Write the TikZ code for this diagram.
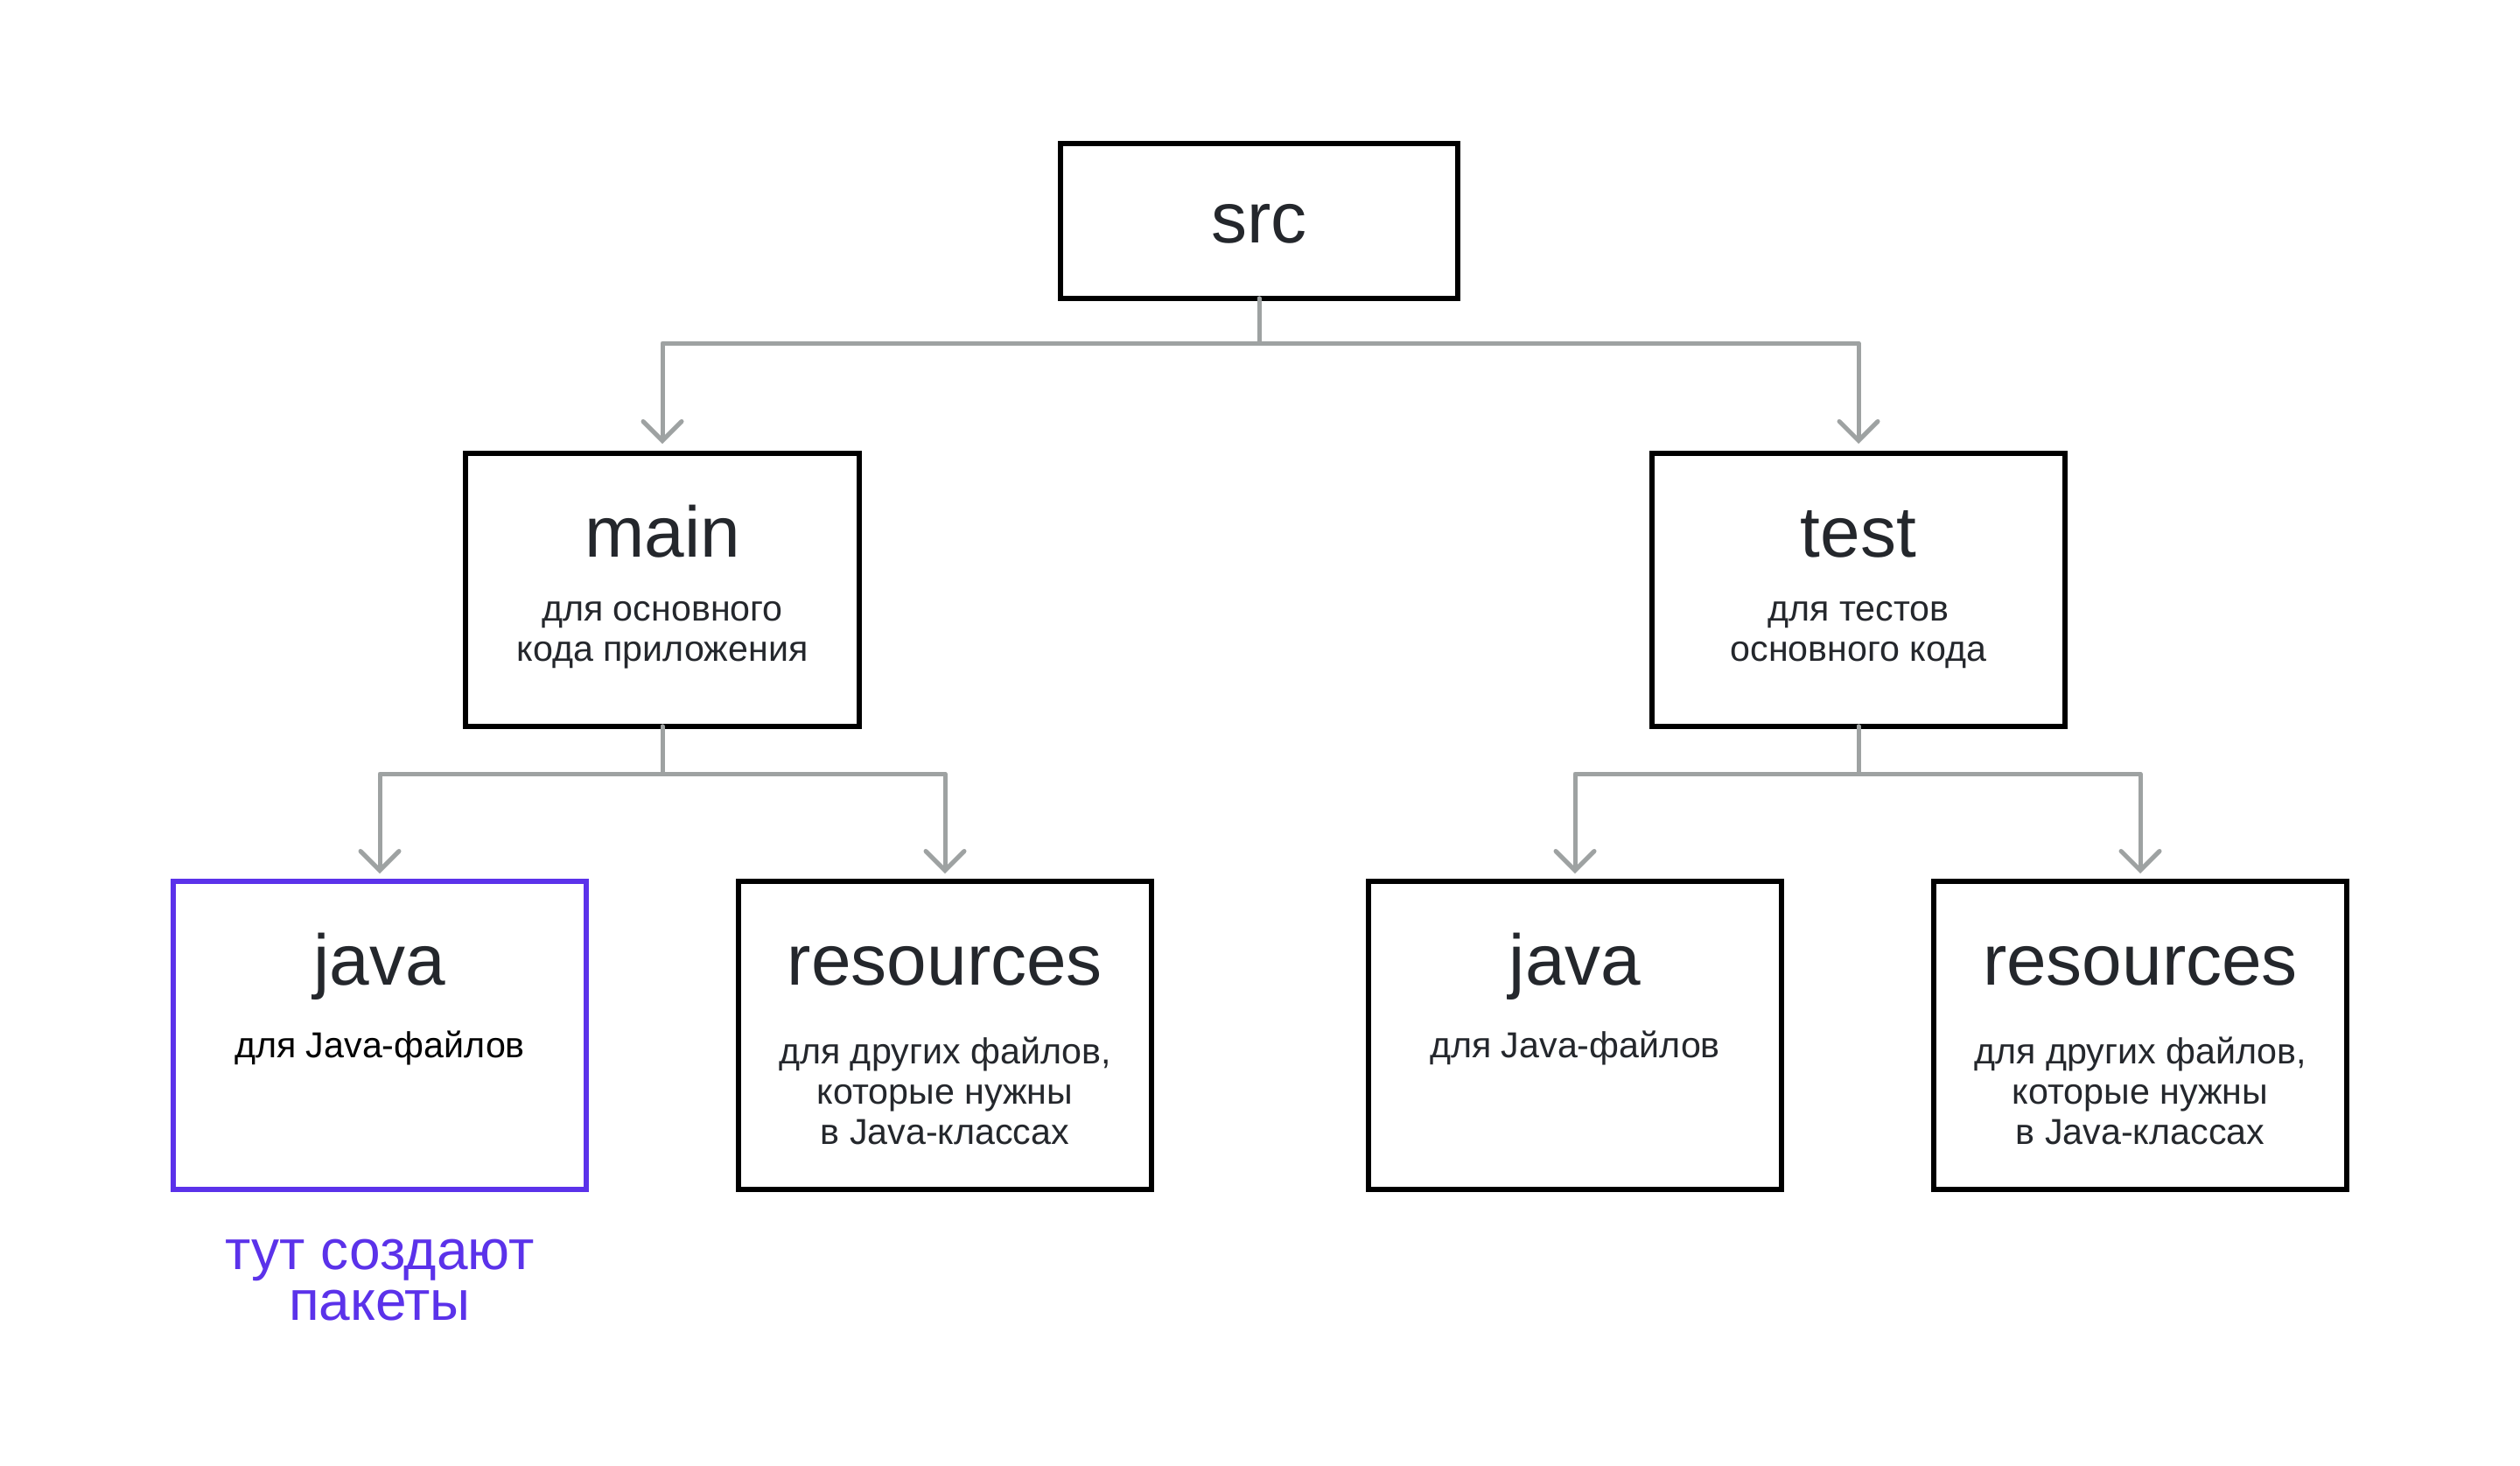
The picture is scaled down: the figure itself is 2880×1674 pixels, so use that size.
\documentclass[tikz,border=0pt]{standalone}
\usepackage{fontspec}
\setmainfont{Liberation Sans}
\usetikzlibrary{arrows.meta}
\definecolor{txt}{HTML}{24272C}
\definecolor{conncol}{HTML}{9EA2A2}
\definecolor{purp}{HTML}{5B32EA}
\newcommand\mylines[1]{\begin{tabular}[t]{@{}c@{}}#1\end{tabular}}
\begin{document}
\begin{tikzpicture}[x=0.25pt,y=-0.25pt,
  box/.style={draw=black,line width=1.5pt,inner sep=0pt,outer sep=0pt,fill=white},
  pbox/.style={box,draw=purp},
  ttl/.style={anchor=base,inner sep=0pt,text=txt,font=\fontsize{20.5pt}{24pt}\selectfont},
  sub/.style={anchor=base,inner sep=0pt,text=txt,font=\fontsize{10.3pt}{11.6pt}\selectfont},
  lbl/.style={anchor=base,inner sep=0pt,text=purp,font=\fontsize{16pt}{14.5pt}\selectfont},
  conn/.style={draw=conncol,line width=1.25pt,line cap=round,line join=round,
    -{Straight Barb[length=5.5pt,width=11pt,line width=1.25pt,line cap=round]}}
]
\useasboundingbox (0,0) rectangle (2880,1674);
\fill[white] (0,0) rectangle (2880,1674);

% boxes
\node[box,minimum width=113.5pt,minimum height=44.25pt] (src) at (1439,252.5) {};
\node[box,minimum width=112.5pt,minimum height=78pt] (main) at (757,674) {};
\node[box,minimum width=118pt,minimum height=78pt] (test) at (2124,674) {};
\node[pbox,minimum width=118pt,minimum height=88pt] (java1) at (434,1183) {};
\node[box,minimum width=118pt,minimum height=88pt] (res1) at (1080,1183) {};
\node[box,minimum width=118pt,minimum height=88pt] (java2) at (1800,1183) {};
\node[box,minimum width=118pt,minimum height=88pt] (res2) at (2446,1183) {};

% texts
\node[ttl] (tsrc) at (1439,277) {src};
\node[ttl] (tmain) at (757,636) {main};
\node[sub] (smain) at (757,709) {\mylines{для основного\\кода приложения}};
\node[ttl] (ttest) at (2124,636) {test};
\node[sub] (stest) at (2124,709) {\mylines{для тестов\\основного кода}};
\node[ttl] (tjava1) at (434,1125) {java};
\node[sub,text=black] (sjava1) at (434,1208) {для Java-файлов};
\node[ttl] (tres1) at (1080,1125) {resources};
\node[sub] (sres1) at (1080,1215) {\mylines{для других файлов,\\которые нужны\\в Java-классах}};
\node[ttl] (tjava2) at (1800,1125) {java};
\node[sub] (sjava2) at (1800,1208) {для Java-файлов};
\node[ttl] (tres2) at (2446,1125) {resources};
\node[sub] (sres2) at (2446,1215) {\mylines{для других файлов,\\которые нужны\\в Java-классах}};
\node[lbl] (note) at (434,1450) {\mylines{тут создают\\пакеты}};

% connectors
\draw[conn,shorten >=2.75pt] (src.south) -- ++(0,51) -| (main.north);
\draw[conn,shorten >=2.75pt] (src.south) -- ++(0,51) -| (test.north);
\draw[conn,shorten >=2.25pt] (main.south) -- ++(0,54) -| (java1.north);
\draw[conn,shorten >=2.25pt] (main.south) -- ++(0,54) -| (res1.north);
\draw[conn,shorten >=2.25pt] (test.south) -- ++(0,54) -| (java2.north);
\draw[conn,shorten >=2.25pt] (test.south) -- ++(0,54) -| (res2.north);
\end{tikzpicture}
\end{document}
